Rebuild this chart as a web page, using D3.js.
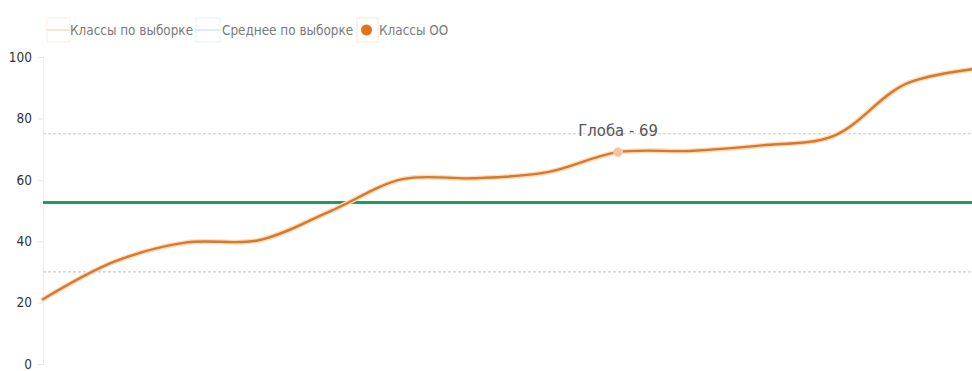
<!DOCTYPE html>
<html><head><meta charset="utf-8">
<script src="https://cdn.jsdelivr.net/npm/d3@7/dist/d3.min.js"></script>
<style>
html,body{margin:0;padding:0;background:#fff;overflow:hidden;}
svg{display:block;}
text{font-family:"DejaVu Sans Condensed","DejaVu Sans",sans-serif;}
</style></head>
<body>
<svg id="chart" width="972" height="371"></svg>
<script>
// ---- data ----
const classes = ["1","2","3","4","5","6","7","8","Глоба","10","11","12","13","14"];
const classValues = [21.1,33.4,39.6,40.3,49.8,60.2,60.5,62.4,69,69.4,71.2,74.3,91.2,96.2];
const sampleBounds = [75, 30];      // "Классы по выборке" band lines
const sampleMean = [52.6];          // "Среднее по выборке"
const highlightName = "Глоба";
const yTicks = [0,20,40,60,80,100];
const legendLabels = ["Классы по выборке","Среднее по выборке","Классы ОО"];

const svg = d3.select("#chart");
const mLeft = 43, mRight = 977.5, mTop = 57, mBottom = 364;

const x = d3.scalePoint().domain(classes).range([mLeft, mRight]);
const y = d3.scaleLinear().domain([0,100]).range([mBottom, mTop]);

// y axis
const yAxis = d3.axisLeft(y).tickValues(yTicks).tickSize(5).tickPadding(6);
const ga = svg.append("g").attr("transform",`translate(${mLeft},0)`).call(yAxis);
ga.select(".domain").attr("stroke","#eeeeee").attr("stroke-width",1);
ga.selectAll(".tick line").attr("stroke","#e6e6e6");
ga.selectAll(".tick text").attr("fill","#333").style("font-size","13.5px");

// sample band dashed lines
svg.selectAll("line.band").data(sampleBounds).join("line")
  .attr("class","band")
  .attr("x1",mLeft).attr("x2",972)
  .attr("y1",d=>y(d)).attr("y2",d=>y(d))
  .attr("stroke","#cccccc").attr("stroke-width",1.2)
  .attr("stroke-dasharray","3,2");

// mean line
svg.selectAll("line.mean").data(sampleMean).join("line")
  .attr("class","mean")
  .attr("x1",mLeft).attr("x2",972)
  .attr("y1",d=>y(d)).attr("y2",d=>y(d))
  .attr("stroke","#1ea05a").attr("stroke-width",3.2);

// class line
const line = d3.line().x((d,i)=>x(classes[i])).y(d=>y(d)).curve(d3.curveCatmullRom.alpha(0.5));
svg.append("path").datum(classValues).attr("d",line)
  .attr("fill","none").attr("stroke","#fbdcbd").attr("stroke-width",5).attr("stroke-linecap","round");
svg.append("path").datum(classValues).attr("d",line)
  .attr("fill","none").attr("stroke","#d9782a").attr("stroke-width",2.4).attr("stroke-linecap","round");

// highlight
const hi = classes.indexOf(highlightName);
svg.append("circle").attr("cx",x(classes[hi])).attr("cy",y(classValues[hi])).attr("r",4.5)
  .attr("fill","#f4c39e").attr("stroke","#f7d3b5").attr("stroke-width",1);
svg.append("text").attr("x",x(classes[hi])).attr("y",y(classValues[hi])-16)
  .attr("text-anchor","middle").attr("fill","#555").style("font-size","16.5px")
  .text(`${highlightName} - ${classValues[hi]}`);

// legend
const lg = svg.append("g");
const items = [
  {x:47, w:23, type:"line", color:"#f6dcc6", box:"#fbeee2"},
  {x:196, w:24, type:"line", color:"#cfe9ee", box:"#e6f3f5"},
  {x:357, w:21, type:"dot", color:"#e07418", box:"#fbe8d6"}
];
const textX = [70, 222, 379];
items.forEach((it,i)=>{
  lg.append("rect").attr("x",it.x).attr("y",18).attr("width",it.w).attr("height",24)
    .attr("fill","none").attr("stroke",it.box).attr("stroke-width",1);
  if(it.type==="line"){
    lg.append("line").attr("x1",it.x).attr("x2",it.x+it.w).attr("y1",30).attr("y2",30)
      .attr("stroke",it.color).attr("stroke-width",1.5);
  } else {
    lg.append("circle").attr("cx",it.x+it.w/2-1).attr("cy",30).attr("r",5.5).attr("fill",it.color);
  }
  lg.append("text").attr("x",textX[i]).attr("y",35).attr("fill","#7a7a7a")
    .style("font-size","13.4px").text(legendLabels[i]);
});
</script>
</body></html>
